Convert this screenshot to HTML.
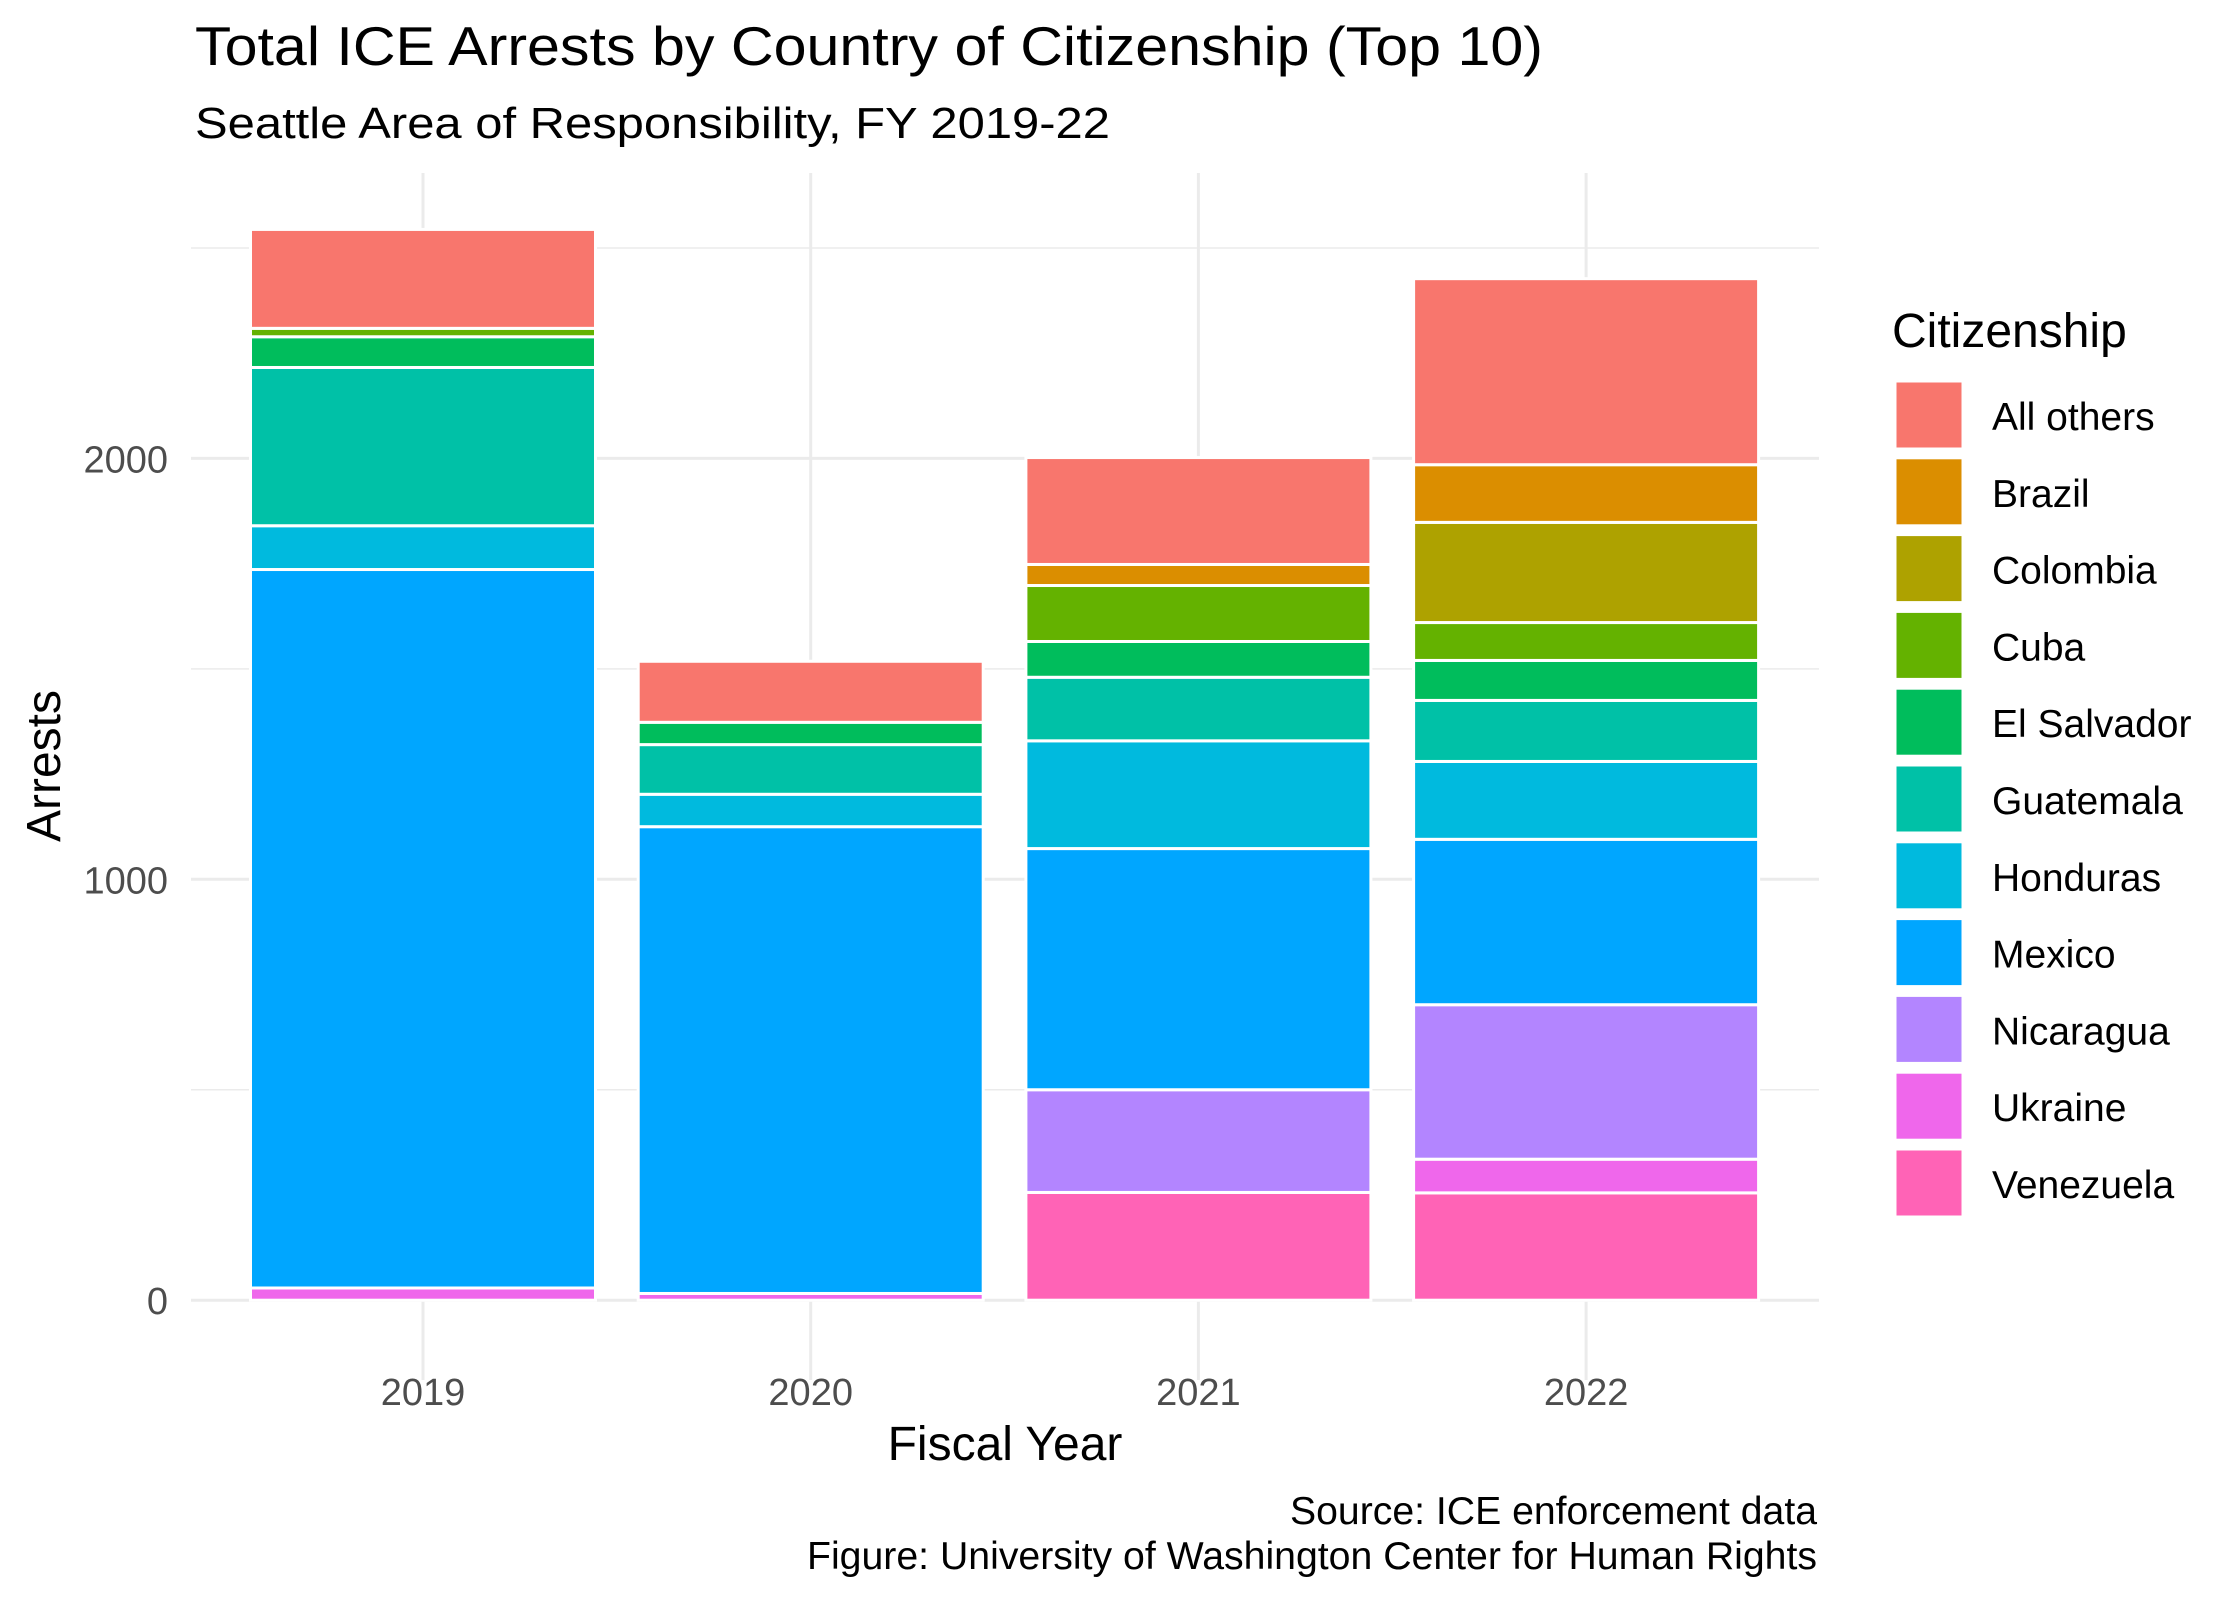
<!DOCTYPE html>
<html><head><meta charset="utf-8"><style>
html,body{margin:0;padding:0;background:#fff;}
svg{display:block;font-family:"Liberation Sans",Arial,sans-serif;}
</style></head><body>
<svg id="chart" width="2240" height="1600" viewBox="0 0 2240 1600">
<rect width="2240" height="1600" fill="#fff"/>
<text x="195" y="65" font-size="55" fill="#000" textLength="1348" lengthAdjust="spacingAndGlyphs">Total ICE Arrests by Country of Citizenship (Top 10)</text>
<text x="195" y="138" font-size="44" fill="#000" textLength="915" lengthAdjust="spacingAndGlyphs">Seattle Area of Responsibility, FY 2019-22</text>
<g id="grid"></g>
<g id="bars"></g>
<g id="axes"></g>
<text x="1005" y="1460" font-size="48" text-anchor="middle" fill="#000">Fiscal Year</text>
<text transform="translate(60,766) rotate(-90)" font-size="48" text-anchor="middle" fill="#000">Arrests</text>
<text x="1817" y="1524" font-size="39" text-anchor="end" fill="#000" textLength="527" lengthAdjust="spacingAndGlyphs">Source: ICE enforcement data</text>
<text x="1817" y="1569" font-size="39" text-anchor="end" fill="#000" textLength="1010" lengthAdjust="spacingAndGlyphs">Figure: University of Washington Center for Human Rights</text>
<g id="legend">
<text x="1892" y="347" font-size="48" fill="#000">Citizenship</text>
</g>
</svg>
<script>
const years = ["2019","2020","2021","2022"];
const countries = ["All others","Brazil","Colombia","Cuba","El Salvador","Guatemala","Honduras","Mexico","Nicaragua","Ukraine","Venezuela"];
const colors = ["#F8766D","#DB8E00","#AEA200","#64B200","#00BD5C","#00C1A7","#00BADE","#00A6FF","#B385FF","#EF67EB","#FF63B6"];
const valAllOthers = [235,145,254,442];
const valBrazil = [0,0,50,137];
const valColombia = [0,0,0,238];
const valCuba = [20,0,133,90];
const valElSalvador = [73,53,85,95];
const valGuatemala = [376,118,151,145];
const valHonduras = [104,77,256,185];
const valMexico = [1707,1109,573,393];
const valNicaragua = [0,0,244,367];
const valUkraine = [29,16,0,80];
const valVenezuela = [0,0,256,255];
const series = [valAllOthers,valBrazil,valColombia,valCuba,valElSalvador,valGuatemala,valHonduras,valMexico,valNicaragua,valUkraine,valVenezuela];
const yTicks = [0,1000,2000];
const yMinor = [500,1500,2500];

const NS="http://www.w3.org/2000/svg";
const px0=191, px1=1819, py0=173, py1=1380;
function yScale(v){return 1300.2 - v*0.4209;}
function xCenter(i){return 423 + i*387.7;}
const barW=345;
function mk(tag,attrs,parent){const e=document.createElementNS(NS,tag);for(const k in attrs)e.setAttribute(k,attrs[k]);parent.appendChild(e);return e;}
const grid=document.getElementById('grid'), bars=document.getElementById('bars'), axes=document.getElementById('axes'), legend=document.getElementById('legend');
yMinor.forEach(v=>{const l=mk('line',{x1:px0,x2:px1,y1:yScale(v),y2:yScale(v),stroke:'#ebebeb','stroke-width':1.5},grid);

});
yTicks.forEach(v=>{const l=mk('line',{x1:px0,x2:px1,y1:yScale(v),y2:yScale(v),stroke:'#ebebeb','stroke-width':3},grid);


const t=mk('text',{x:168,y:yScale(v)+14,'font-size':38,'text-anchor':'end',fill:'#4d4d4d'},axes);
t.textContent=v;

});
years.forEach((yr,i)=>{const l=mk('line',{x1:xCenter(i),x2:xCenter(i),y1:py0,y2:py1,stroke:'#ebebeb','stroke-width':3},grid);


const t=mk('text',{x:xCenter(i),y:1405,'font-size':38,'text-anchor':'middle',fill:'#4d4d4d'},axes);
t.textContent=yr;


let cum=0;
for(let s=series.length-1;s>=0;s--){const v=series[s][i];if(!v)continue;
const yTop=yScale(cum+v), yBot=yScale(cum);cum+=v;
const r=mk('rect',{x:xCenter(i)-barW/2,y:yTop,width:barW,height:yBot-yTop,fill:colors[s],stroke:'#fff','stroke-width':3},bars);

}
});
countries.forEach((c,k)=>{const y=382+k*76.8;
const r=mk('rect',{x:1896,y:y,width:66,height:66,fill:colors[k],stroke:'#fff','stroke-width':1},legend);


const t=mk('text',{x:1992,y:y+48,'font-size':39,fill:'#000'},legend);
t.textContent=c;

});
</script>
</body></html>
